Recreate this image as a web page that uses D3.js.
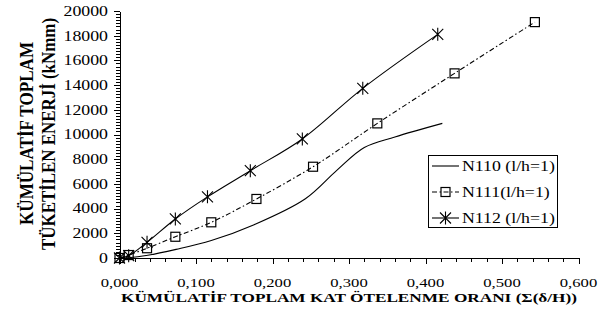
<html>

<head>
  <title>Kumulatif enerji</title>
  <style>
    body { margin: 0; background: #fff; }
  </style>
</head>

<body>
  <script src="https://d3js.org/d3.v7.min.js"></script>
  <script>
    // tick values
    var xTicks = [0, 0.1, 0.2, 0.3, 0.4, 0.5, 0.6];
    var yTicks = [0, 2000, 4000, 6000, 8000, 10000, 12000, 14000, 16000, 18000, 20000];

    // series: [drift ratio, energy kNmm]
    var n110 = [[0, 0], [0.012, 20], [0.037, 220], [0.074, 700], [0.12, 1420], [0.176, 2700],
                [0.243, 4800], [0.284, 7100], [0.32, 8950], [0.36, 9800], [0.422, 10900]];
    var n111 = [[0, 0], [0.012, 240], [0.036, 790], [0.073, 1720], [0.12, 2890], [0.179, 4780],
                [0.253, 7390], [0.337, 10900], [0.438, 14950], [0.543, 19100]];
    var n112 = [[0, 0], [0.012, 190], [0.036, 1270], [0.073, 3160], [0.115, 4950], [0.171, 7070],
                [0.239, 9640], [0.318, 13740], [0.416, 18110]];
    var seriesNames = ["N110 (l/h=1)", "N111(l/h=1)", "N112 (l/h=1)"];

    var width = 613, height = 315;
    var font = "'Liberation Serif', 'Times New Roman', serif";
    var sx = 1.27;

    var svg = d3.select("body")
      .append("svg")
      .attr("width", width)
      .attr("height", height);

    var x = d3.scaleLinear().domain([0, 0.6]).range([119.5, 578.5]);
    var y = d3.scaleLinear().domain([0, 20000]).range([258, 11]);

    // axes
    function styleAxis(g) {
      g.select(".domain").attr("stroke", "#000").attr("stroke-width", 1);
      g.selectAll(".tick line").attr("stroke", "#000").attr("stroke-width", 1);
      g.selectAll(".tick text").remove();
      g.attr("shape-rendering", "crispEdges");
    }

    svg.append("g")
      .attr("transform", "translate(" + x(0) + ",0)")
      .call(d3.axisLeft(y).tickValues(d3.range(0, 81).map(function (i) { return i * 250; }))
        .tickSize(4).tickSizeOuter(0).tickFormat(""))
      .call(styleAxis);
    svg.append("g")
      .attr("transform", "translate(" + x(0) + ",0)")
      .call(d3.axisLeft(y).tickValues(yTicks).tickSize(6).tickSizeOuter(0).tickFormat(""))
      .call(styleAxis);

    svg.append("g")
      .attr("transform", "translate(0," + y(0) + ")")
      .call(d3.axisBottom(x).tickValues(d3.range(0, 31).map(function (i) { return i * 0.02; }))
        .tickSize(4).tickSizeOuter(0).tickFormat(""))
      .call(styleAxis);
    svg.append("g")
      .attr("transform", "translate(0," + y(0) + ")")
      .call(d3.axisBottom(x).tickValues(xTicks).tickSize(6).tickSizeOuter(0).tickFormat(""))
      .call(styleAxis);

    // tick labels
    svg.selectAll(".ylab")
      .data(yTicks)
      .enter()
      .append("text")
      .attr("class", "ylab")
      .attr("transform", function (d) { return "translate(108," + (y(d) + 4.8) + ") scale(" + sx + ",1)"; })
      .attr("text-anchor", "end")
      .style("font-family", font)
      .style("font-size", "14px")
      .text(function (d) { return d; });

    svg.selectAll(".xlab")
      .data(xTicks)
      .enter()
      .append("text")
      .attr("class", "xlab")
      .attr("transform", function (d) { return "translate(" + x(d) + ",287) scale(1.28,1)"; })
      .attr("text-anchor", "middle")
      .style("font-family", font)
      .style("font-size", "13px")
      .text(function (d) { return d3.format(".3f")(d).replace(".", ","); });

    // axis titles
    svg.append("text")
      .attr("x", 121)
      .attr("y", 301.5)
      .attr("textLength", 456)
      .attr("lengthAdjust", "spacingAndGlyphs")
      .style("font-family", font)
      .style("font-size", "13.5px")
      .style("font-weight", "bold")
      .text("KÜMÜLATİF TOPLAM KAT ÖTELENME ORANI (Σ(δ/H))");

    svg.append("text")
      .attr("transform", "translate(33.3,133.5) scale(1.28,1) rotate(-90)")
      .attr("text-anchor", "middle")
      .attr("textLength", 183)
      .attr("lengthAdjust", "spacingAndGlyphs")
      .style("font-family", font)
      .style("font-size", "14px")
      .style("font-weight", "bold")
      .text("KÜMÜLATİF TOPLAM");

    svg.append("text")
      .attr("transform", "translate(55,134) scale(1.28,1) rotate(-90)")
      .attr("text-anchor", "middle")
      .attr("textLength", 232)
      .attr("lengthAdjust", "spacingAndGlyphs")
      .style("font-family", font)
      .style("font-size", "14px")
      .style("font-weight", "bold")
      .text("TÜKETİLEN ENERJİ (kNmm)");

    // lines
    var line = d3.line()
      .x(function (d) { return x(d[0]); })
      .y(function (d) { return y(d[1]); })
      .curve(d3.curveCatmullRom.alpha(0.5));

    var dash = [null, "5,2.5,1.5,2.5", null];
    var data = [n110, n111, n112];

    data.forEach(function (s, i) {
      svg.append("path")
        .datum(s)
        .attr("d", line)
        .attr("fill", "none")
        .attr("stroke", "#000")
        .attr("stroke-width", 1.1)
        .attr("stroke-dasharray", dash[i]);
    });

    function square(g) {
      g.append("rect")
        .attr("x", -4.5).attr("y", -4.5)
        .attr("width", 9).attr("height", 9)
        .attr("fill", "none")
        .attr("stroke", "#000")
        .attr("stroke-width", 1.2);
    }
    function star(g) {
      g.append("path")
        .attr("d", "M-5.5,-5.5L5.5,5.5M-5.5,5.5L5.5,-5.5M0,-6.5L0,6.5")
        .attr("fill", "none")
        .attr("stroke", "#000")
        .attr("stroke-width", 1.1);
    }

    svg.selectAll(".m111")
      .data(n111)
      .enter()
      .append("g")
      .attr("transform", function (d) { return "translate(" + x(d[0]) + "," + y(d[1]) + ")"; })
      .call(square);

    svg.selectAll(".m112")
      .data(n112)
      .enter()
      .append("g")
      .attr("transform", function (d) { return "translate(" + x(d[0]) + "," + y(d[1]) + ")"; })
      .call(star);

    // legend
    var legend = svg.append("g");
    legend.append("rect")
      .attr("x", 428.5).attr("y", 155.5)
      .attr("width", 129).attr("height", 72)
      .attr("fill", "#fff")
      .attr("stroke", "#000")
      .attr("stroke-width", 1);

    var legY = [166, 192, 218];
    seriesNames.forEach(function (name, i) {
      legend.append("line")
        .attr("x1", 432).attr("x2", 459)
        .attr("y1", legY[i]).attr("y2", legY[i])
        .attr("stroke", "#000")
        .attr("stroke-width", 1.1)
        .attr("stroke-dasharray", dash[i]);
      var m = legend.append("g").attr("transform", "translate(445.5," + legY[i] + ")");
      if (i == 1) square(m);
      if (i == 2) star(m);
      legend.append("text")
        .attr("transform", "translate(462," + (legY[i] + 4.8) + ") scale(" + sx + ",1)")
        .style("font-family", font)
        .style("font-size", "14px")
        .text(name);
    });
  </script>
</body>

</html>
